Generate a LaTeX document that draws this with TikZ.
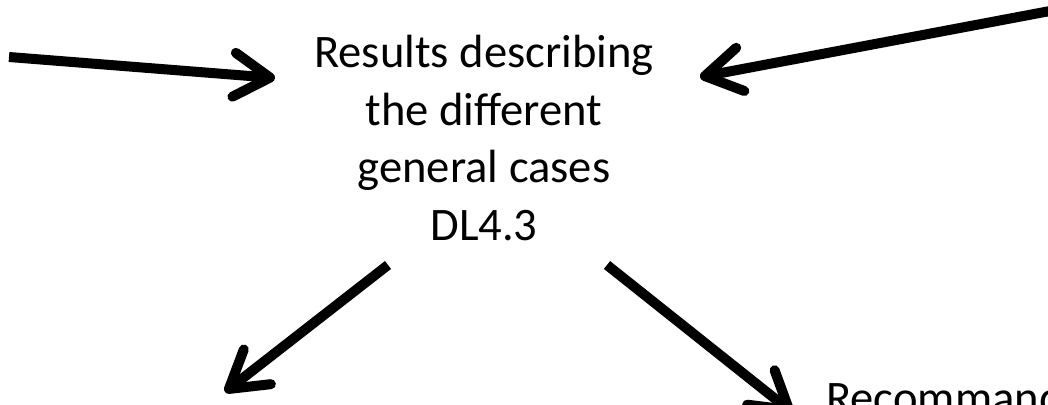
\documentclass[tikz,border=0pt]{standalone}
\usepackage{fontspec}
\setmainfont{Carlito}
\usetikzlibrary{arrows.meta}
\tikzset{
  bigarrow/.style={line width=10pt, line cap=butt,
    -{Straight Barb[length=36pt, width=44pt, round]}},
  bigtext/.style={font=\fontsize{46.6}{57.5}\selectfont, inner sep=0pt, align=center}
}
\begin{document}
\begin{tikzpicture}[x=1pt,y=-1pt]
\useasboundingbox (0,0) rectangle (1048,404);
\node[bigtext, anchor=base] (main) at (484,240) {Results describing\\the different\\general cases\\DL4.3};
\node[bigtext, anchor=base west] (rec) at (826,413) {Recommand};
\coordinate (in1) at (9,57);
\coordinate (in1e) at (275,78);
\coordinate (in2) at (1050,11);
\coordinate (in2e) at (700,77);
\coordinate (out1s) at (388,265);
\coordinate (out1e) at (225,392);
\coordinate (out2s) at (607,265);
\coordinate (out2e) at (793,413);
\draw[bigarrow] (in1) -- (in1e);
\draw[bigarrow] (in2) -- (in2e);
\draw[bigarrow] (out1s) -- (out1e);
\draw[bigarrow] (out2s) -- (out2e);
\end{tikzpicture}
\end{document}
